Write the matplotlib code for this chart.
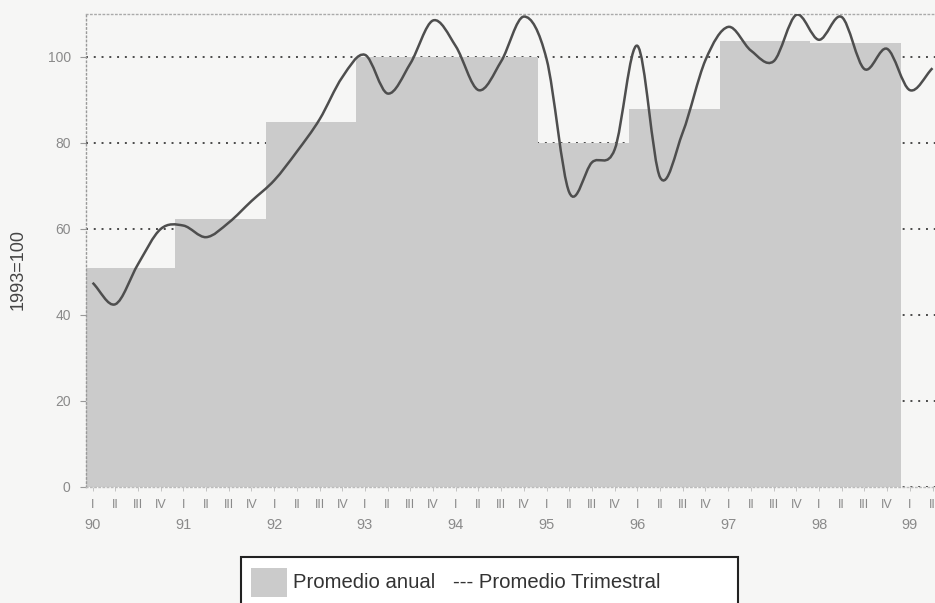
import numpy as np
import matplotlib
matplotlib.use("Agg")
import matplotlib.pyplot as plt
from matplotlib.path import Path
from matplotlib.patches import PathPatch, Rectangle

# annual averages (1993=100), one bar per year 1990-1998
years = ["90", "91", "92", "93", "94", "95", "96", "97", "98", "99"]
annual = [51.0, 62.3, 84.8, 100.0, 100.0, 80.0, 88.0, 103.8, 103.3]

# quarterly averages, 1990-I .. 1999-II
quarterly = [47.5, 42.5, 51.8, 60.0, 60.8, 58.1, 61.5, 66.5,
             71.3, 78.0, 85.5, 95.3, 100.5, 91.5, 98.5, 108.5,
             102.5, 92.3, 99.0, 109.4, 99.5, 68.5, 75.5, 78.5,
             102.6, 72.0, 82.5, 99.3, 107.0, 101.5, 99.0, 109.8,
             104.0, 109.3, 97.2, 101.9, 92.3, 97.4]
quarters = ["I", "II", "III", "IV"]

bg = "#f6f6f5"
bar_col = "#cbcbcb"
txt_col = "#8a8a8a"

plt.rcParams["font.family"] = ["Liberation Sans", "DejaVu Sans"]

fig = plt.figure(figsize=(9.35, 6.03), dpi=100, facecolor=bg)
ax = fig.add_axes([86 / 935, 116 / 603, 1 - 86 / 935, 473 / 603])
ax.set_facecolor(bg)

# bars span each year, shifted a little left of the quarter-I tick
starts = [4 * i - 0.38 for i in range(len(annual))]
ax.bar(starts, annual, width=4, align="edge", color=bar_col,
       edgecolor="none", zorder=1)

# smooth line through the quarterly points (Catmull-Rom as cubic beziers)
xq = np.arange(len(quarterly), dtype=float)
pts = np.column_stack([xq, quarterly])
ext = np.vstack([pts[0] * 2 - pts[1], pts, pts[-1] * 2 - pts[-2]])
verts = [tuple(pts[0])]
codes = [Path.MOVETO]
for i in range(1, len(ext) - 2):
    p0, p1, p2, p3 = ext[i - 1], ext[i], ext[i + 1], ext[i + 2]
    c1 = p1 + (p2 - p0) / 6.0
    c2 = p2 - (p3 - p1) / 6.0
    verts += [tuple(c1), tuple(c2), tuple(p2)]
    codes += [Path.CURVE4] * 3
ax.add_patch(PathPatch(Path(verts, codes), facecolor="none",
                       edgecolor="#4e4e4e", lw=1.8, zorder=3))

ax.set_xlim(-0.29, 37.11)
ax.set_ylim(0, 110)

# dotted horizontal grid, hidden behind the bars
ax.set_axisbelow(True)
ax.set_yticks(range(0, 101, 20))
ax.yaxis.grid(True, linestyle=(0, (1, 3)), color="#4a4a4a", lw=1.4)
ax.tick_params(axis="y", length=4, width=0.8, color="#999999", pad=7,
               labelsize=10, labelcolor=txt_col)

ax.set_xticks(xq)
ax.set_xticklabels([quarters[i % 4] for i in range(len(quarterly))])
ax.tick_params(axis="x", length=3, width=0.6, color="#bbbbbb", pad=6,
               labelsize=9, labelcolor=txt_col)
for i, yr in enumerate(years):
    ax.text(4 * i, -0.08, yr, transform=ax.get_xaxis_transform(),
            ha="center", va="center", fontsize=10.5, color=txt_col)

for side in ["left", "bottom", "top"]:
    ax.spines[side].set_linestyle((0, (1, 2)))
    ax.spines[side].set_linewidth(1.0)
ax.spines["left"].set_color("#999999")
ax.spines["bottom"].set_color("#bbbbbb")
ax.spines["top"].set_color("#aaaaaa")
ax.spines["right"].set_visible(False)

ax.set_ylabel("1993=100", fontsize=13, color="#444444")
ax.yaxis.set_label_coords(-0.07, 0.459)

# legend box along the bottom edge
fig.patches.append(Rectangle((241 / 935, -0.05), 497 / 935, 0.05 + 46 / 603,
                             transform=fig.transFigure, facecolor="white",
                             edgecolor="#222222", lw=1.5))
fig.patches.append(Rectangle((251 / 935, 6 / 603), 36 / 935, 29 / 603,
                             transform=fig.transFigure, facecolor=bar_col,
                             edgecolor="none"))
fig.text(293 / 935, 20 / 603, "Promedio anual", fontsize=14.6,
         color="#333333", va="center")
fig.text(453 / 935, 20 / 603, "--- Promedio Trimestral", fontsize=14.6,
         color="#333333", va="center")

fig.savefig("out.png", dpi=100, facecolor=bg)
